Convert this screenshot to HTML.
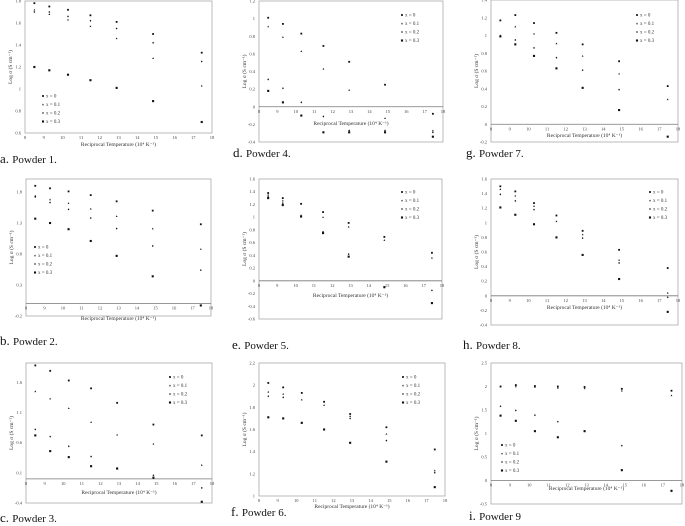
<!DOCTYPE html>
<html><head><meta charset="utf-8"><style>
body{margin:0;background:#fff;width:685px;height:526px;overflow:hidden}
svg{display:block}
.cap{font-family:"Liberation Serif",serif;font-size:11px;fill:#111}
.cap .big{font-size:13px}
.tk{font-family:"Liberation Serif",serif;font-size:4.5px;fill:#444}
.ttl{font-family:"Liberation Serif",serif;font-size:5.5px;fill:#333}
.lg{font-family:"Liberation Serif",serif;font-size:5px;fill:#333}
</style></head><body>
<svg id="fig" width="685" height="526" xmlns="http://www.w3.org/2000/svg"></svg>
<script>
const xValues=[8.5,9.3,10.3,11.5,12.9,14.85,17.45];
const xTicks=[8,9,10,11,12,13,14,15,16,17,18];
const seriesNames=["x = 0","x = 0.1","x = 0.2","x = 0.3"];
// series data per panel (4 series, 7 points each)
const dataA=[[1.78,1.75,1.72,1.67,1.61,1.5,1.33],[1.72,1.68,1.63,1.57,1.46,1.28,1.03],[1.70,1.70,1.66,1.62,1.55,1.42,1.25],[1.2,1.17,1.13,1.08,1.01,0.89,0.7]];
const dataD=[[1.01,0.94,0.83,0.69,0.51,0.25,-0.08],[0.91,0.79,0.63,0.43,0.19,-0.13,-0.27],[0.31,0.21,0.05,-0.11,-0.27,-0.27,-0.29],[0.18,0.05,-0.10,-0.29,-0.29,-0.29,-0.34]];
const dataG=[[1.17,1.23,1.14,1.03,0.90,0.71,0.43],[1.00,1.10,1.02,0.91,0.77,0.57,0.28],[0.99,0.95,0.86,0.75,0.61,0.39,-0.14],[0.99,0.90,0.77,0.63,0.41,0.16,-0.14]];
const dataB=[[1.9,1.86,1.81,1.75,1.65,1.5,1.28],[1.74,1.68,1.62,1.53,1.41,1.21,0.88],[1.72,1.63,1.52,1.38,1.21,0.93,0.54],[1.37,1.3,1.2,1.01,0.77,0.44,-0.03]];
const dataE=[[1.38,1.30,1.21,1.08,0.91,0.69,0.44],[1.35,1.26,1.03,1.0,0.85,0.64,0.36],[1.32,1.22,1.02,0.77,0.42,-0.1,-0.15],[1.30,1.19,1.01,0.75,0.38,-0.1,-0.35]];
const dataH=[[1.5,1.43,1.27,1.10,0.89,0.63,0.38],[1.46,1.37,1.23,1.02,0.84,0.49,0.04],[1.39,1.30,1.18,0.80,0.79,0.45,-0.02],[1.21,1.11,0.98,0.80,0.56,0.23,-0.22]];
const dataC=[[1.88,1.79,1.63,1.50,1.26,0.9,0.72],[1.45,1.33,1.17,0.94,0.73,0.58,0.23],[0.82,0.70,0.54,0.37,0.18,0.06,-0.15],[0.72,0.46,0.36,0.21,0.17,0.02,-0.38]];
const dataF=[[2.02,1.98,1.93,1.85,1.74,1.62,1.42],[1.94,1.92,1.87,1.82,1.72,1.56,1.23],[1.90,1.89,1.66,1.60,1.70,1.50,1.21],[1.71,1.70,1.66,1.60,1.48,1.31,1.08]];
const dataI=[[2.0,2.03,2.01,2.0,1.99,1.95,1.91],[2.0,2.0,1.99,1.97,1.96,1.91,1.81],[1.58,1.49,1.39,1.25,1.05,0.74,-0.22],[1.38,1.27,1.05,0.92,1.05,0.22,-0.22]];
const yTicksA=[0.6,0.8,1,1.2,1.4,1.6,1.8];
const yTicksD=[-0.4,-0.2,0,0.2,0.4,0.6,0.8,1,1.2];
const yTicksG=[-0.2,0,0.2,0.4,0.6,0.8,1,1.2,1.4];
const yTicksB=[-0.2,0.3,0.8,1.3,1.8];
const yTicksE=[-0.6,-0.4,-0.2,0,0.2,0.4,0.6,0.8,1,1.2,1.4,1.6];
const yTicksH=[-0.4,-0.2,0,0.2,0.4,0.6,0.8,1,1.2,1.4,1.6];
const yTicksC=[-0.4,0.1,0.6,1.1,1.6];
const yTicksF=[1,1.2,1.4,1.6,1.8,2,2.2];
const yTicksI=[-0.5,0,0.5,1,1.5,2,2.5];

const panels=[
 {id:"a",cap:["a.","Powder 1."],data:dataA,yt:yTicksA,ymin:0.6,ymax:1.8,box:[25,1,212,133],cx:0,cy:163,ty:146,lg:[43,96]},
 {id:"d",cap:["d.","Powder 4."],data:dataD,yt:yTicksD,ymin:-0.4,ymax:1.2,box:[259,1,443,142],cx:233,cy:157,ty:125,lg:[402,15]},
 {id:"g",cap:["g.","Powder 7."],data:dataG,yt:yTicksG,ymin:-0.2,ymax:1.4,box:[491,0,678,142],cx:466,cy:157,ty:137,lg:[637,15]},
 {id:"b",cap:["b.","Powder 2."],data:dataB,yt:yTicksB,ymin:-0.2,ymax:2.01,box:[26,179,211,316],cx:0,cy:345,ty:320,lg:[35,247]},
 {id:"e",cap:["e.","Powder 5."],data:dataE,yt:yTicksE,ymin:-0.6,ymax:1.6,box:[259,179,442,319],cx:232,cy:349,ty:297,lg:[402,192]},
 {id:"h",cap:["h.","Powder 8."],data:dataH,yt:yTicksH,ymin:-0.4,ymax:1.6,box:[491,179,678,325],cx:463,cy:349,ty:309,lg:[650,192]},
 {id:"c",cap:["c.","Powder 3."],data:dataC,yt:yTicksC,ymin:-0.4,ymax:1.92,box:[26,363,212,503],cx:0,cy:522,ty:494,lg:[170,377]},
 {id:"f",cap:["f.","Powder 6."],data:dataF,yt:yTicksF,ymin:1,ymax:2.2,box:[259,363,445,496],cx:231,cy:516,ty:508,lg:[403,377]},
 {id:"i",cap:["i.","Powder 9"],data:dataI,yt:yTicksI,ymin:-0.5,ymax:2.5,box:[491,363,682,504],cx:469,cy:520,ty:490,lg:[502,445]}
];
const NS="http://www.w3.org/2000/svg";
const svg=document.getElementById('fig');
function mk(tag,attrs,parent){const e=document.createElementNS(NS,tag);for(const k in attrs)e.setAttribute(k,attrs[k]);(parent||svg).appendChild(e);return e;}
function marker(g,s,x,y){
  const sz=[0.9,0.75,0.75,1.05][s];
  if(s==1){return mk('polygon',{points:`${x},${y-sz*1.3} ${x-sz*1.2},${y+sz} ${x+sz*1.2},${y+sz}`,fill:'#111'},g);}
  if(s==2){return mk('polygon',{points:`${x},${y-sz*1.4} ${x+sz*1.2},${y} ${x},${y+sz*1.4} ${x-sz*1.2},${y}`,fill:'#111'},g);}
  return mk('rect',{x:x-sz,y:y-sz,width:sz*2,height:sz*2,fill:'#111'},g);
}
panels.forEach(p=>{
  const g=mk('g',{});
  
  
  const [L,T,R,B]=p.box;
  const sx=v=>L+(v-8)/(18-8)*(R-L);
  const sy=v=>B-(v-p.ymin)/(p.ymax-p.ymin)*(B-T);
  const frame=mk('rect',{x:L,y:T,width:R-L,height:B-T,fill:'none',stroke:'#aaa','stroke-width':0.8},g);
  
  
  let axisY=B;
  if(p.ymin<0&&p.ymax>0){axisY=sy(0);
    const z=mk('line',{x1:L,x2:R,y1:axisY,y2:axisY,stroke:'#777','stroke-width':0.8},g);
    
    }
  p.yt.forEach(v=>{const t=mk('text',{x:L-4,y:sy(v)+1.5,'text-anchor':'end',class:'tk'},g);t.textContent=String(v);
    
    });
  xTicks.forEach(v=>{const t=mk('text',{x:sx(v),y:axisY+6,'text-anchor':'middle',class:'tk'},g);t.textContent=String(v);
    
    });
  const xt=mk('text',{x:(L+R)/2,y:p.ty,'text-anchor':'middle',class:'ttl'},g);
  xt.textContent='Reciprocal Temperature (10⁴ K⁻¹)';
  
  
  const yc=(T+B)/2;
  const yt=mk('text',{x:L-13,y:yc,'text-anchor':'middle',class:'ttl',transform:`rotate(-90 ${L-13} ${yc})`},g);
  yt.textContent='Log σ (S cm⁻¹)';
  
  
  p.data.forEach((ser,s)=>{ser.forEach((v,i)=>{const m=marker(g,s,sx(xValues[i]),sy(v));
    
    });});
  seriesNames.forEach((n,s)=>{const lx=p.lg[0],ly=p.lg[1]+s*8.5;
    const m=marker(g,s,lx,ly);
    
    
    const t=mk('text',{x:lx+3,y:ly+1.7,class:'lg'},g);t.textContent=n;
    
    });
  const c=mk('text',{x:p.cx,y:p.cy,class:'cap'},g);
  
  
  const s1=mk('tspan',{class:'big'},c);s1.textContent=p.cap[0]+' ';
  const s2=mk('tspan',{},c);s2.textContent=p.cap[1];
});
</script>
</body></html>
